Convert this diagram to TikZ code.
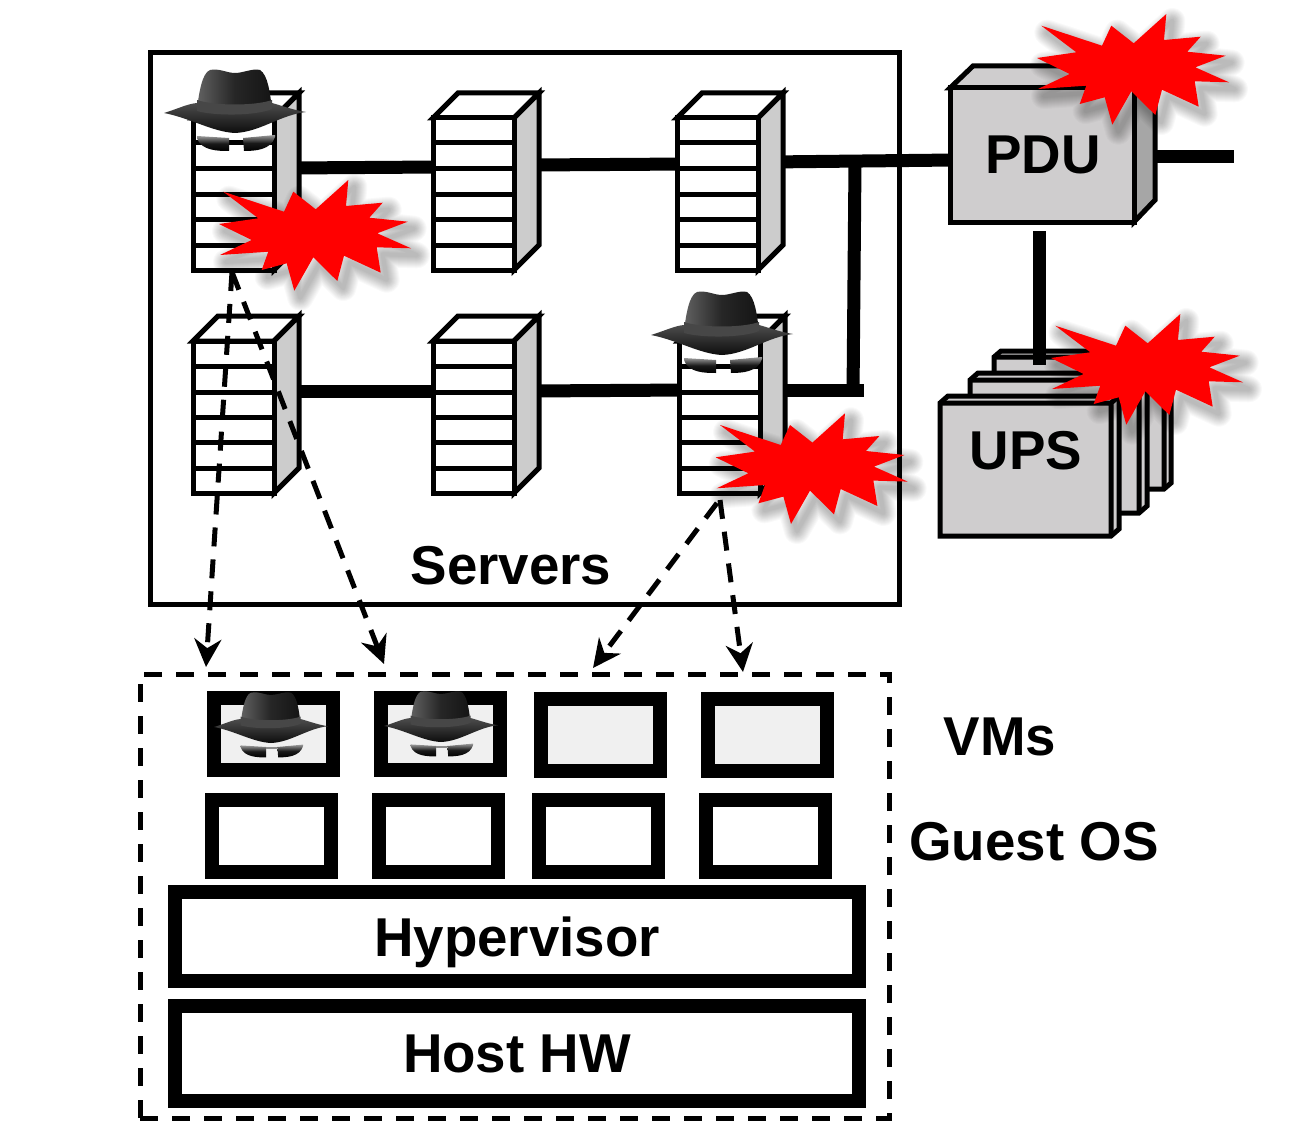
\documentclass[tikz,border=0pt]{standalone}
\usepackage{fontspec}
\setmainfont{Liberation Sans}
\usetikzlibrary{arrows.meta,calc}
\definecolor{boxgray}{HTML}{CFCDCE}
\definecolor{sidegray}{HTML}{A6A6A6}
\definecolor{rackgray}{HTML}{CCCCCC}
\definecolor{vmgray}{HTML}{F0F0F0}
\tikzset{
  lbl/.style={font=\fontsize{54.7}{60}\selectfont\bfseries,inner sep=0pt,text=black},
  rackline/.style={line width=5pt,line join=miter},
  rackfront/.style={rackline,draw=black,fill=white,minimum width=81pt,minimum height=152pt,inner sep=0pt},
  wire/.style={line width=13pt,draw=black},
  thickbox/.style={draw=black,line width=14pt,inner sep=0pt},
  frame/.style={draw=black,line width=5pt},
  dashframe/.style={draw=black,line width=5pt,dash pattern=on 18pt off 14pt},
  dasharrow/.style={draw=black,line width=5pt,dash pattern=on 19pt off 13pt,-{Stealth[length=28pt,width=27pt]}},
  gbox/.style={line width=5pt,draw=black,fill=boxgray,line join=miter},
}
% rack: name, x, y of the front's top left corner
\newcommand{\rack}[3]{%
  \begin{scope}[shift={(#2,#3)}]
    \filldraw[rackline,fill=white] (0,0) -- (25,-25) -- (106,-25) -- (81,0) -- cycle;
    \filldraw[rackline,fill=rackgray] (81,0) -- (106,-25) -- (106,127) -- (81,152) -- cycle;
    \node[rackfront] (#1) at (40.5,76) {};
    \foreach \yy in {25,51,76,101,127} \draw[rackline] (0,\yy) -- (81,\yy);
  \end{scope}}
% spy: centre x, brim y, scale
\newcommand{\spy}[3]{%
  \begin{scope}[shift={(#1,#2)},scale=#3]
    \path[left color=black!62,right color=black!92,middle color=black!85]
      (-38,-4) .. controls (-36,-20) and (-33,-40) .. (-25,-43) .. controls (-16,-45) and (-8,-40) .. (0,-40)
      .. controls (8,-40) and (18,-45) .. (25,-43) .. controls (33,-38) and (35,-20) .. (37,-4) -- cycle;
    \path[top color=black!70,bottom color=black!95]
      (-71,0) .. controls (-55,-5) and (-48,-9) .. (-38,-10) .. controls (-25,0) and (25,0) .. (37,-10)
      .. controls (48,-7) and (58,-3) .. (71,-1) .. controls (45,2) and (25,19) .. (0,20)
      .. controls (-22,19) and (-45,5) .. (-71,0) -- cycle;
    \path[fill=black!72] (-38,-13) .. controls (-20,-7) and (20,-7) .. (37,-13)
      -- (37,-4) .. controls (20,3) and (-20,3) .. (-38,-2) -- cycle;
    \path[top color=black!40,bottom color=black,middle color=black!90]
      (-38,23) -- (-6,25) -- (-6,38) .. controls (-16,38) and (-34,38) .. (-38,25) -- cycle;
    \path[top color=black!40,bottom color=black,middle color=black!90]
      (40,22) -- (8,25) -- (9,38) .. controls (20,38) and (36,37) .. (40,24) -- cycle;
  \end{scope}}
% burst with soft shadow: name, centre x, centre y
\newcommand{\burstpath}{(-91.7,-43.3) -- (-31,-23.3) -- (-21.7,-43.3) -- (0.7,-25.7) -- (33.3,-55) -- (31,-29) -- (67.7,-32.3) -- (54.3,-17.3) -- (92.7,-13.3) -- (62.3,-1.7) -- (96,13.3) -- (61.7,12.3) -- (65.7,37.7) -- (29,20.7) -- (22.3,46) -- (-1.7,22.3) -- (-20.7,55.7) -- (-28.3,28.3) -- (-53.3,35) -- (-46.7,16.7) -- (-95,20) -- (-63.3,5) -- (-96,-11) -- (-56.7,-16.7) -- cycle}
\newcommand{\burst}[3]{%
  \coordinate (#1) at (#2,#3);
  \begin{scope}[shift={(#1)}]
    \foreach \w in {26,24,22,20,18,16,14,12,10,8,6,4}
      \draw[black,opacity=0.024,line width=\w pt,line join=round,shift={(6,7)}] \burstpath;
    \fill[red] \burstpath;
  \end{scope}}
\begin{document}
\begin{tikzpicture}[x=1pt,y=-1pt]
\useasboundingbox (0,0) rectangle (1299,1121);
\fill[white] (0,0) rectangle (1299,1121);
% outer frame
\node[frame,minimum width=749pt,minimum height=551pt,inner sep=0pt] (servers) at (524.5,328.5) {};
\node[lbl] (serverslabel) at (511,566) {Servers};
% wire ports
\coordinate (s1e) at (290,168); \coordinate (s2w) at (440,167);
\coordinate (s2e) at (530,165); \coordinate (s3w) at (690,164);
\coordinate (s3e) at (770,162); \coordinate (pduw) at (955,160);
\coordinate (s4e) at (290,391); \coordinate (s5w) at (440,391);
\coordinate (s5e) at (530,391); \coordinate (s6w) at (690,390);
\coordinate (s6e) at (770,390); \coordinate (junct) at (864,390);
\coordinate (tapa) at (855,162); \coordinate (tapb) at (853,396);
\coordinate (pdue) at (1145,157); \coordinate (pduout) at (1234,157);
\coordinate (pdus) at (1039,231); \coordinate (upsn) at (1039,365);
\draw[wire] (s1e) -- (s2w);
\draw[wire] (s2e) -- (s3w);
\draw[wire] (s3e) -- (pduw);
\draw[wire] (s4e) -- (s5w);
\draw[wire] (s5e) -- (s6w);
\draw[wire] (s6e) -- (junct);
\draw[wire] (tapa) -- (tapb);
\draw[wire] (pdue) -- (pduout);
% servers
\rack{s1}{193}{118}
\rack{s2}{433}{118}
\rack{s3}{677}{118}
\rack{s4}{193}{341}
\rack{s5}{433}{341}
\rack{s6}{679}{341}
% PDU
\filldraw[gbox] (950,88) -- (973,66) -- (1155,66) -- (1134,88) -- cycle;
\filldraw[gbox,fill=sidegray] (1134,88) -- (1155,66) -- (1155,200) -- (1134,222) -- cycle;
\node[gbox,minimum width=184pt,minimum height=134pt,inner sep=0pt] (pdu) at (1042,155) {};
\node[lbl] (pdulabel) at (1043,155) {PDU};
% UPS
\filldraw[gbox] (994,357) -- (1001,351) -- (1171,351) -- (1171,483) -- (1164,489) -- (994,489) -- cycle;
\draw[line width=5pt] (994,357) -- (1164,357) -- (1164,489) (1164,357) -- (1171,351);
\filldraw[gbox] (970,380) -- (978,373) -- (1147,373) -- (1147,506) -- (1139,513) -- (970,513) -- cycle;
\draw[line width=5pt] (970,380) -- (1139,380) -- (1139,513) (1139,380) -- (1147,373);
\filldraw[gbox] (940,403) -- (948,396) -- (1119,396) -- (1119,529) -- (1111,536) -- (940,536) -- cycle;
\draw[line width=5pt] (940,403) -- (1111,403) -- (1111,536) (1111,403) -- (1119,396);
\node[inner sep=0pt,minimum width=171pt,minimum height=133pt] (ups) at (1025.5,469.5) {};
\node[lbl] (upslabel) at (1026,451) {UPS};
\draw[wire] (pdus) -- (upsn);
% spies on servers
\spy{235}{113}{1}
\spy{722}{335}{1}
% dashed connectors
\coordinate (vm1n) at (206,667); \coordinate (vm2n) at (384,664);
\coordinate (vm3n) at (593,668); \coordinate (vm4n) at (743,672);
\coordinate (s1s) at (232,272); \coordinate (s6sa) at (717,503); \coordinate (s6sb) at (720,500);
\draw[dasharrow] (s1s) -- (vm1n);
\draw[dasharrow] (s1s) -- (vm2n);
\draw[dasharrow] (s6sa) -- (vm3n);
\draw[dasharrow] (s6sb) -- (vm4n);
% bursts
\burst{b1}{315}{235}
\burst{b2}{811.7}{468.3}
\burst{b3}{1133}{69}
\burst{b4}{1147}{369}
% host frame
\node[dashframe,minimum width=749pt,minimum height=444pt,inner sep=0pt] (host) at (514.5,896) {};
% VMs
\node[thickbox,fill=vmgray,minimum width=119pt,minimum height=72pt] (vm1) at (273.5,734) {};
\node[thickbox,fill=vmgray,minimum width=119pt,minimum height=72pt] (vm2) at (440.5,734) {};
\node[thickbox,fill=vmgray,minimum width=119pt,minimum height=72pt] (vm3) at (600.5,735) {};
\node[thickbox,fill=vmgray,minimum width=119pt,minimum height=72pt] (vm4) at (767.5,735) {};
\spy{271}{727}{0.8}
\spy{441}{726}{0.8}
\draw[black!45,line width=1.5pt] (266,748) -- (277,748);
\draw[black!45,line width=1.5pt] (436,747) -- (447,747);
% guest OS
\node[thickbox,fill=white,minimum width=119pt,minimum height=72pt] (os1) at (271.5,836) {};
\node[thickbox,fill=white,minimum width=119pt,minimum height=72pt] (os2) at (438.5,836) {};
\node[thickbox,fill=white,minimum width=119pt,minimum height=72pt] (os3) at (598.5,836) {};
\node[thickbox,fill=white,minimum width=119pt,minimum height=72pt] (os4) at (765.5,836) {};
\node[thickbox,fill=white,minimum width=684pt,minimum height=89pt,lbl,text depth=0pt] (hyp) at (517,936.5) {Hypervisor};
\node[thickbox,fill=white,minimum width=684pt,minimum height=95pt,lbl] (hw) at (517,1053.5) {Host HW};
\node[lbl] (vmslabel) at (1000,737) {VMs};
\node[lbl] (oslabel) at (1034,842) {Guest OS};
\end{tikzpicture}
\end{document}
